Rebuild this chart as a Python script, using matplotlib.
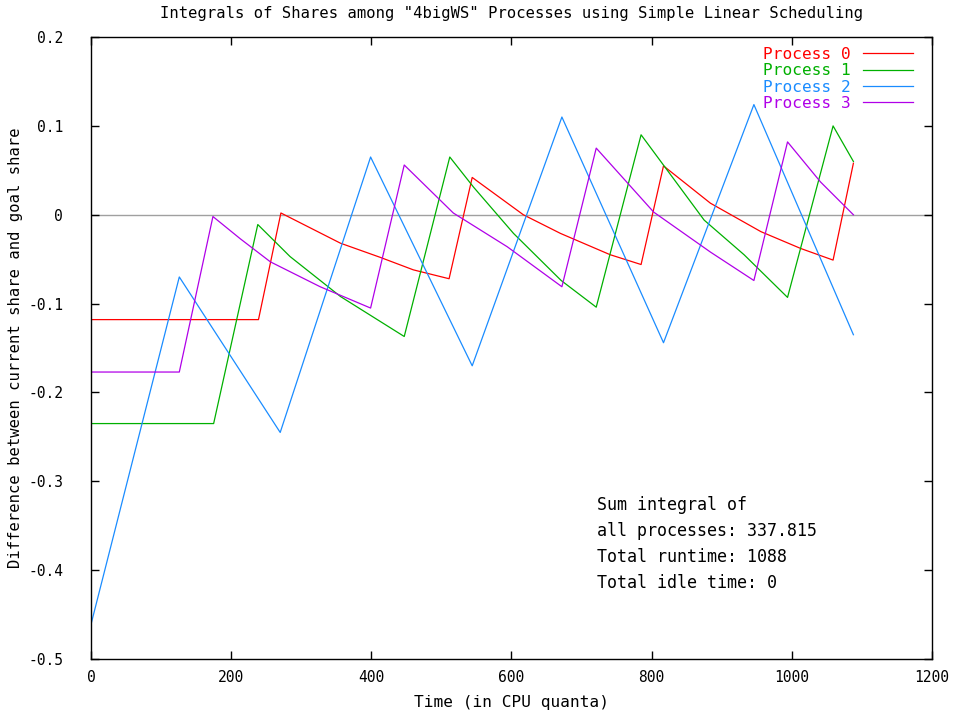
"""Integrals of shares among the 4bigWS processes (simple linear scheduling)."""

import matplotlib
matplotlib.use("Agg")
import matplotlib.pyplot as plt

# values
t_p0 = [0, 239, 271, 356, 413, 460, 511, 544, 617, 670, 741, 785, 817, 884, 956, 1013, 1059, 1088]
y_p0 = [-0.118, -0.118, 0.002, -0.032, -0.048, -0.062, -0.072, 0.042, 0.0, -0.021, -0.045, -0.056,
        0.055, 0.013, -0.019, -0.038, -0.051, 0.058]

t_p1 = [0, 175, 238, 284, 356, 447, 512, 546, 603, 671, 721, 785, 875, 932, 994, 1059, 1088]
y_p1 = [-0.235, -0.235, -0.011, -0.047, -0.092, -0.137, 0.065, 0.031, -0.021, -0.074, -0.104,
        0.090, -0.006, -0.045, -0.093, 0.100, 0.060]

t_p2 = [0, 126, 270, 399, 544, 672, 817, 946, 1088]
y_p2 = [-0.461, -0.070, -0.245, 0.065, -0.170, 0.110, -0.144, 0.124, -0.135]

t_p3 = [0, 126, 174, 213, 256, 327, 399, 447, 517, 594, 672, 721, 803, 884, 946, 994, 1041, 1088]
y_p3 = [-0.177, -0.177, -0.002, -0.027, -0.053, -0.081, -0.105, 0.056, 0.002, -0.036, -0.081,
        0.075, 0.003, -0.042, -0.074, 0.082, 0.037, 0.0]

labels = ["Process 0", "Process 1", "Process 2", "Process 3"]
colors = ["#ff0000", "#00b000", "#1a8cff", "#b000e8"]

x_ticks = [0, 200, 400, 600, 800, 1000, 1200]
y_ticks = [0.2, 0.1, 0, -0.1, -0.2, -0.3, -0.4, -0.5]

info_lines = ["Sum integral of", "all processes: 337.815", "Total runtime: 1088", "Total idle time: 0"]

FONT = "DejaVu Sans Mono"

fig = plt.figure(figsize=(9.61, 7.10), dpi=100)
ax = fig.add_axes([0.0947, 0.0718, 0.875, 0.876])

ax.axhline(0, color="#a0a0a0", lw=1.0, zorder=1)

series = [(t_p0, y_p0), (t_p1, y_p1), (t_p2, y_p2), (t_p3, y_p3)]
for (t, y), lab, c in zip(series, labels, colors):
    ax.plot(t, y, color=c, lw=0.9, label=lab, zorder=2)

ax.set_xlim(0, 1200)
ax.set_ylim(-0.5, 0.2)
ax.set_xticks(x_ticks)
ax.set_xticklabels([str(v) for v in x_ticks])
ax.set_yticks(y_ticks)
ax.set_yticklabels(["0" if v == 0 else f"{v:g}" for v in y_ticks])

ax.tick_params(direction="in", length=6, width=1, top=True, right=True,
               labelsize=10.5, colors="black")
ax.tick_params(axis="y", pad=20)
ax.tick_params(axis="x", pad=8)
for lab in ax.get_xticklabels() + ax.get_yticklabels():
    lab.set_family(FONT)
for sp in ax.spines.values():
    sp.set_linewidth(1.0)

ax.set_title('Integrals of Shares among "4bigWS" Processes using Simple Linear Scheduling',
             family=FONT, fontsize=11.2, pad=14)
ax.set_xlabel("Time (in CPU quanta)", family=FONT, fontsize=11.6, labelpad=7)
ax.set_ylabel("Difference between current share and goal share", family=FONT,
              fontsize=11.2, labelpad=4)

leg = ax.legend(loc="upper right", bbox_to_anchor=(0.977, 0.984), frameon=False,
                markerfirst=False, labelcolor="linecolor", handlelength=3.1,
                handletextpad=0.75, labelspacing=0.08, borderaxespad=0, borderpad=0,
                prop={"family": FONT, "size": 11.6})

ax.text(0.602, 0.262, "\n".join(info_lines), transform=ax.transAxes,
        family=FONT, fontsize=12.0, va="top", ha="left", linespacing=1.58)

fig.savefig("out.png", dpi=100)
